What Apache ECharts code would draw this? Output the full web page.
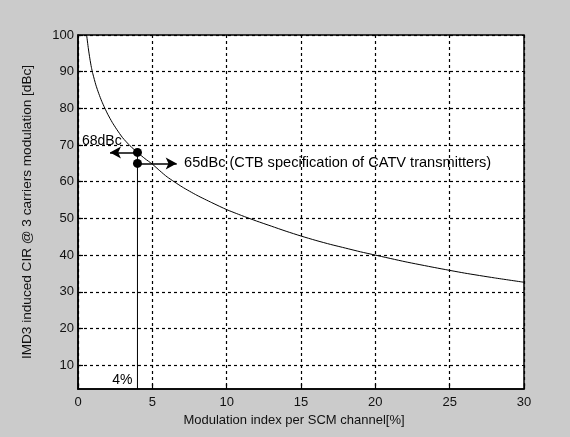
<!DOCTYPE html>
<html>
<head>
<meta charset="utf-8">
<script src="https://cdn.jsdelivr.net/npm/echarts@6/dist/echarts.min.js"></script>
<style>
html,body{margin:0;padding:0;background:#cbcbcb;}
#chart{width:570px;height:437px;}
</style>
</head>
<body>
<div id="chart"></div>
<script>
// ---- data ----
const modIndex = [0.58, 0.7, 0.8, 0.9, 1.0, 1.2, 1.4, 1.6, 1.8, 2.0, 2.3, 2.6, 3.0, 3.5, 4.0, 4.5, 5, 5.5, 6, 7, 8, 9, 10, 11, 12, 13, 14, 15, 16, 17, 18, 19, 20, 22, 24, 26, 28, 30];
const cirValues = [100, 96.2, 93.5, 91.2, 89.4, 86.4, 84.0, 81.9, 80.1, 78.4, 76.2, 74.3, 72.0, 69.8, 68.0, 66.3, 64.8, 63.0, 61.3, 58.6, 56.3, 54.3, 52.4, 50.8, 49.3, 47.9, 46.5, 45.2, 44.0, 42.9, 41.9, 40.9, 40.0, 38.2, 36.6, 35.1, 33.8, 32.6];
const xTicks = [0, 5, 10, 15, 20, 25, 30];
const yTicks = [10, 20, 30, 40, 50, 60, 70, 80, 90, 100];
const yMin = 3.5;
const markX = 4;          // 4 %
const levelUpper = 68;    // 68 dBc
const levelSpec = 65;     // 65 dBc
const arrowLeftEnd = 2.15;
const arrowRightEnd = 6.64;
const annotations = [
  {x: 1.6, y: 71.0, text: '68dBc', pos: 'inside', size: 14},
  {x: 7.0, y: 65.0, text: '65dBc (CTB specification of CATV transmitters)', pos: 'right', size: 14.6},
  {x: 3.8, y: 6.0, text: '4%', pos: 'left', size: 14}
];
const xTitle = 'Modulation index per SCM channel[%]';
const yTitle = 'IMD3 induced CIR @ 3 carriers modulation [dBc]';

const chart = echarts.init(document.getElementById('chart'));
const font = 'Liberation Sans, Arial, sans-serif';
const gridLine = {show: true, lineStyle: {color: '#000', type: [3, 3], width: 1.2}};

chart.setOption({
  backgroundColor: '#cbcbcb',
  animation: false,
  grid: {left: 78, right: 46, top: 35, bottom: 48, show: true, backgroundColor: '#fff', borderColor: '#000', borderWidth: 1.5},
  xAxis: {
    type: 'value', min: 0, max: 30, interval: 5,
    name: xTitle, nameLocation: 'middle', nameGap: 20,
    nameTextStyle: {fontFamily: font, fontSize: 13, color: '#111', padding: [0, 14, 0, 0]},
    axisLine: {show: true, lineStyle: {color: '#000', width: 1.5}},
    axisTick: {show: true, inside: true, length: 5, lineStyle: {color: '#000', width: 1.2}},
    axisLabel: {fontFamily: font, fontSize: 13, color: '#111', margin: 7, customValues: xTicks},
    splitLine: gridLine
  },
  yAxis: {
    type: 'value', min: yMin, max: 100,
    name: yTitle, nameLocation: 'middle', nameGap: 44, nameRotate: 90,
    nameTextStyle: {fontFamily: font, fontSize: 13.6, color: '#111'},
    axisLine: {show: true, lineStyle: {color: '#000', width: 1.5}},
    axisTick: {show: true, inside: true, length: 5, lineStyle: {color: '#000', width: 1.2}, customValues: yTicks},
    axisLabel: {fontFamily: font, fontSize: 13, color: '#111', margin: 4, customValues: yTicks},
    splitLine: gridLine
  },
  series: [
    {
      type: 'line', data: modIndex.map((x, i) => [x, cirValues[i]]),
      showSymbol: false, smooth: 0.2, clip: true,
      lineStyle: {color: '#000', width: 1}
    },
    {
      type: 'line', data: [[markX, yMin], [markX, levelUpper]],
      showSymbol: false, lineStyle: {color: '#000', width: 1},
      markLine: {
        silent: true, symbol: ['none', 'arrow'], symbolSize: [9, 11],
        label: {show: false},
        lineStyle: {color: '#000', width: 1.5, type: 'solid'},
        data: [
          [{coord: [markX, levelUpper]}, {coord: [arrowLeftEnd, levelUpper]}],
          [{coord: [markX, levelSpec]}, {coord: [arrowRightEnd, levelSpec]}]
        ]
      }
    },
    {
      type: 'scatter', data: [[markX, levelUpper], [markX, levelSpec]],
      symbol: 'circle', symbolSize: 9, itemStyle: {color: '#000', opacity: 1}
    },
    {
      type: 'scatter', symbolSize: 0, itemStyle: {opacity: 1},
      data: annotations.map(a => ({
        value: [a.x, a.y],
        label: {show: true, formatter: a.text, position: a.pos, distance: 2,
                fontFamily: font, fontSize: a.size, color: '#000'}
      }))
    }
  ]
});
</script>
</body>
</html>
